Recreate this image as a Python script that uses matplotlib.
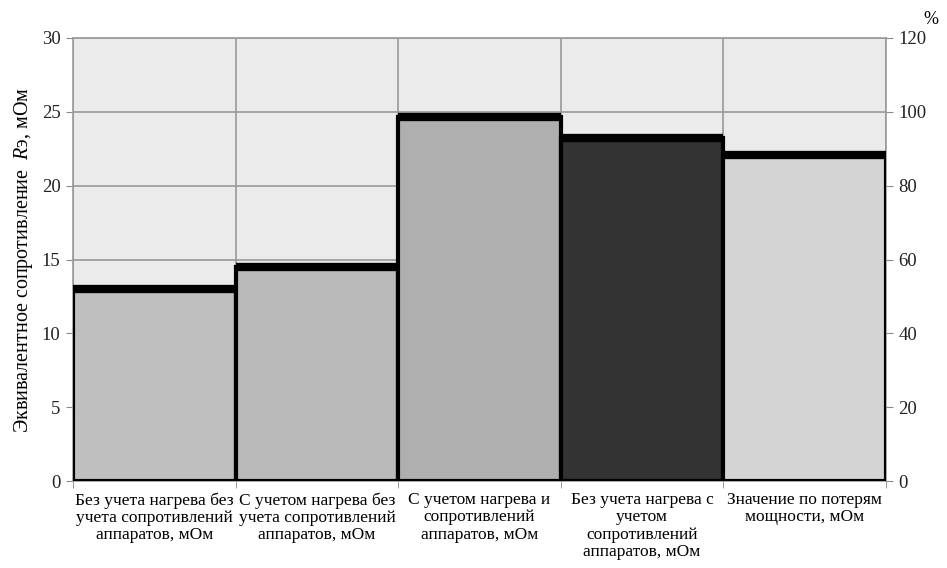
import matplotlib
matplotlib.use("Agg")
import matplotlib.pyplot as plt
import numpy as np

plt.rcParams['font.family'] = ['Liberation Serif', 'DejaVu Serif']
plt.rcParams['mathtext.fontset'] = 'custom'
plt.rcParams['mathtext.it'] = 'Liberation Serif:italic'
plt.rcParams['mathtext.rm'] = 'Liberation Serif'

categories = [
    "Без учета нагрева без\nучета сопротивлений\nаппаратов, мОм",
    "С учетом нагрева без\nучета сопротивлений\nаппаратов, мОм",
    "С учетом нагрева и\nсопротивлений\nаппаратов, мОм",
    "Без учета нагрева с\nучетом\nсопротивлений\nаппаратов, мОм",
    "Значение по потерям\nмощности, мОм",
]
values = [13.0, 14.5, 24.65, 23.2, 22.1]
bar_colors = ["#bfbfbf", "#b9b9b9", "#afafaf", "#333333", "#d4d4d4"]
left_ticks = [0, 5, 10, 15, 20, 25, 30]
right_ticks = [0, 20, 40, 60, 80, 100, 120]

fig = plt.figure(figsize=(9.47, 5.68), dpi=100)
ax = fig.add_axes([73/947, 1-481/568, (886-73)/947, (481-38)/568])
ax.set_facecolor("#ebebeb")

x = np.arange(len(values))
ax.bar(x, values, width=1.0, color=bar_colors, edgecolor="black", linewidth=3, zorder=3)
ax.hlines(values, x-0.5, x+0.5, colors="black", linewidth=6, zorder=4)

ax.set_xlim(-0.5, len(values)-0.5)
ax.set_ylim(0, 30)
ax.set_yticks(left_ticks)
ax.set_yticklabels([str(t) for t in left_ticks], fontsize=13.5, color="#222222")
ax.set_xticks(x)
ax.set_xticklabels(categories, fontsize=12.5, linespacing=1.1)
ax.tick_params(axis='x', length=0, pad=8)
ax.set_xticks(np.arange(-0.5, len(values)), minor=True)
ax.tick_params(axis='x', which='minor', length=5, color="#888888")
ax.tick_params(axis='y', length=5, color="#888888", pad=4)
ax.grid(True, axis='y', color="#999999", linewidth=1.2, zorder=1)
ax.grid(True, axis='x', which='minor', color="#999999", linewidth=1.2, zorder=1)
ax.grid(False, axis='x', which='major')
for s in ax.spines.values():
    s.set_color("#999999")
    s.set_linewidth(1.2)
ax.set_ylabel("Эквивалентное сопротивление  $\\mathit{R}$э, мОм", fontsize=14.5, labelpad=5)

ax2 = ax.twinx()
ax2.set_ylim(0, 120)
ax2.set_yticks(right_ticks)
ax2.set_yticklabels([str(t) for t in right_ticks], fontsize=13.5, color="#222222")
ax2.tick_params(axis='y', length=5, color="#888888", pad=4)
for s in ax2.spines.values():
    s.set_visible(False)
fig.text(931/947, 1-20/568, "%", fontsize=13, ha='center', va='center')

fig.savefig("out.png", dpi=100)
